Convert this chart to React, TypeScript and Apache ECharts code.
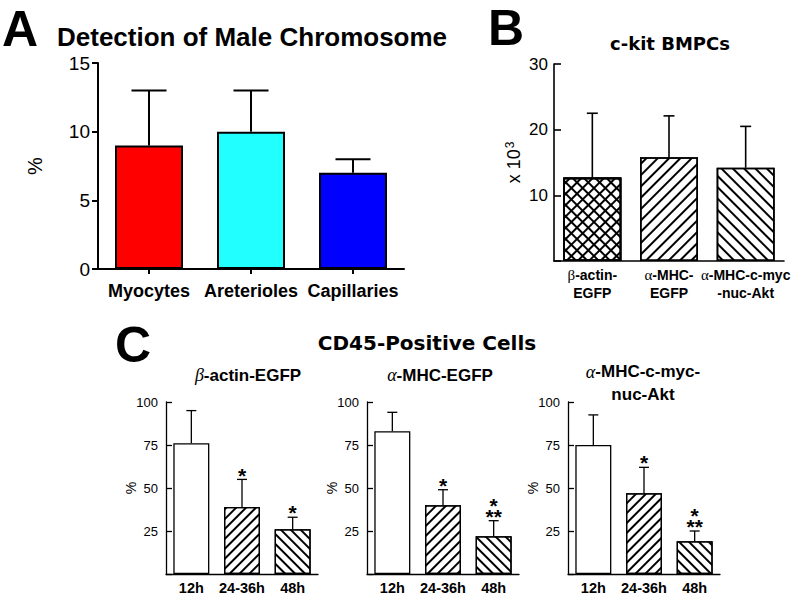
import React, { useEffect, useRef } from 'react';
import * as echarts from 'echarts';

// ---------- data ----------
const catsA = ['Myocytes', 'Areterioles', 'Capillaries'];
const valsA = [9, 10, 7];
const errA = [4, 3, 1];
const ticksA = [0, 5, 10, 15];

const catsB = ['β-actin-\nEGFP', 'α-MHC-\nEGFP', 'α-MHC-c-myc\n-nuc-Akt'];
const valsB = [12.7, 15.8, 14.2];
const errB = [9.8, 6.3, 6.3];
const ticksB = [10, 20, 30];

const catsC = ['12h', '24-36h', '48h'];
const titlesC = ['β-actin-EGFP', 'α-MHC-EGFP', 'α-MHC-c-myc-\nnuc-Akt'];
const valsC1 = [76, 39, 26];
const errC1 = [19, 16, 7];
const starsC1 = ['', '*', '*'];
const valsC2 = [83, 40, 22];
const errC2 = [11, 9, 9];
const starsC2 = ['', '*', '*\n**'];
const valsC3 = [75, 47, 19];
const errC3 = [17.5, 15, 6];
const starsC3 = ['', '*', '*\n**'];
const ticksC = [25, 50, 75, 100];

// ---------- styles ----------
const SANS = '"Liberation Sans", Arial, Helvetica, sans-serif';
const WIDE = '"DejaVu Sans", Verdana, sans-serif';
const SERIF = '"Liberation Serif", "Times New Roman", serif';
const colorsA = ['#ff0000', '#22ffff', '#0000ff'];

const slash = (gap: number) => ({
  symbol: 'rect', symbolSize: 1, dashArrayX: [1, 0], dashArrayY: [1.3, gap],
  rotation: -Math.PI / 4, color: '#000',
});
const backslash = (gap: number) => ({
  symbol: 'rect', symbolSize: 1, dashArrayX: [1, 0], dashArrayY: [1.3, gap],
  rotation: Math.PI / 4, color: '#000',
});

const greek = (s: string, tag: string) => s.split('\n').map((l) => l.replace(/([αβ])/g, `{${tag}|$1}`)).join('\n');

const STAR_FS = 21;
const STAR_LH = 11;
function errSeries(idx: number, vals: number[], errs: number[], stars: string[] | null, lw: number, cap: number) {
  return {
    type: 'custom', xAxisIndex: idx, yAxisIndex: idx, z: 5,
    data: vals.map((v, i) => [i, v, v + errs[i]]),
    encode: { x: 0, y: [1, 2] },
    renderItem: (params: any, api: any) => {
      const i = api.value(0);
      const top = api.coord([i, api.value(2)]);
      const base = api.coord([i, api.value(1)]);
      const st = { stroke: '#000', lineWidth: lw };
      const children: any[] = [
        { type: 'line', shape: { x1: top[0], y1: base[1], x2: top[0], y2: top[1] }, style: st },
        { type: 'line', shape: { x1: top[0] - cap / 2, y1: top[1], x2: top[0] + cap / 2, y2: top[1] }, style: st },
      ];
      const s = stars ? stars[params.dataIndex] : '';
      if (s) {
        const n = s.split('\n').length;
        const cy = top[1] - 9 - (n - 1) * STAR_LH / 2;
        children.push({
          type: 'text', x: top[0], y: cy + 0.22 * STAR_FS,
          style: { text: s, fontSize: STAR_FS, fontWeight: 'bold', fontFamily: SANS, fill: '#000', align: 'center', verticalAlign: 'middle', lineHeight: STAR_LH },
        });
      }
      return { type: 'group', children };
    },
  };
}

function buildOption(): any {
  const grids = [
    { left: 98, top: 63, width: 306, height: 206 },
    { left: 554, top: 64, width: 230, height: 197 },
    { left: 166, top: 402, width: 152, height: 173 },
    { left: 367, top: 402, width: 152, height: 173 },
    { left: 568, top: 402, width: 152, height: 173 },
  ];
  const cAxisX = (gi: number) => ({
    type: 'category', gridIndex: gi, data: catsC,
    axisLine: { lineStyle: { color: '#000', width: 1.3 } },
    axisTick: { show: false },
    axisLabel: { interval: 0, fontFamily: SANS, fontWeight: 'bold', fontSize: 14.5, color: '#000', margin: 6 },
  });
  const cAxisY = (gi: number) => ({
    type: 'value', gridIndex: gi, min: 0, max: 100, interval: 25,
    axisLine: { show: true, lineStyle: { color: '#000', width: 1.3 } },
    axisTick: { show: true, inside: true, length: 6, lineStyle: { color: '#000', width: 1.3 } },
    splitLine: { show: false },
    axisLabel: { fontFamily: SANS, fontSize: 13, color: '#000', margin: 8, formatter: (v: number) => (ticksC.includes(v) ? String(v) : '') },
    name: '%', nameLocation: 'middle', nameGap: 28, nameRotate: 90, nameMoveOverlap: false,
    nameTextStyle: { fontFamily: SANS, fontSize: 14, color: '#000' },
  });
  const cBars = (gi: number, vals: number[]) => ({
    type: 'bar', xAxisIndex: gi, yAxisIndex: gi, barWidth: 36,
    itemStyle: { color: '#fff', borderColor: '#000', borderWidth: 1.3 },
    data: vals.map((v, i) => ({ value: v, itemStyle: { decal: i === 1 ? slash(5) : i === 2 ? backslash(5) : null } })),
  });

  const titleX = [248, 440, 643];
  const subtitles = titlesC.map((t, i) => ({
    type: 'text', x: titleX[i], y: i === 2 ? 383 : 375,
    style: {
      text: greek(t, 'g'), fontFamily: SANS, fontWeight: 'bold', fontSize: 17, fill: '#000',
      align: 'center', verticalAlign: 'middle', lineHeight: 23,
      rich: { g: { fontFamily: SERIF, fontStyle: 'italic', fontWeight: 'normal', fontSize: 18, fill: '#000', lineHeight: 23 } },
    },
  }));

  const letter = (t: string, x: number, y: number) => ({
    type: 'text', x, y,
    style: { text: t, fontFamily: SANS, fontWeight: 'bold', fontSize: 50, lineHeight: 42, fill: '#000', verticalAlign: 'middle' },
  });

  return {
    animation: false,
    backgroundColor: '#fff',
    grid: grids,
    xAxis: [
      {
        type: 'category', gridIndex: 0, data: catsA,
        axisLine: { lineStyle: { color: '#000', width: 2 } },
        axisTick: { show: true, alignWithLabel: true, length: 5, lineStyle: { color: '#000', width: 2 } },
        axisLabel: { interval: 0, fontFamily: SANS, fontWeight: 'bold', fontSize: 18, color: '#000', margin: 13 },
      },
      {
        type: 'category', gridIndex: 1, data: catsB,
        axisLine: { lineStyle: { color: '#000', width: 1.6 } },
        axisTick: { show: false },
        axisLabel: {
          interval: 0, fontFamily: SANS, fontWeight: 'bold', fontSize: 14, color: '#000', margin: 5, lineHeight: 18,
          formatter: (v: string) => greek(v, 'g'),
          rich: { g: { fontFamily: SERIF, fontWeight: 'normal', fontSize: 15, color: '#000', lineHeight: 18 } },
        },
      },
      cAxisX(2), cAxisX(3), cAxisX(4),
    ],
    yAxis: [
      {
        type: 'value', gridIndex: 0, min: 0, max: 15, interval: 5,
        axisLine: { show: true, lineStyle: { color: '#000', width: 2 } },
        axisTick: { show: true, length: 6, lineStyle: { color: '#000', width: 2 } },
        splitLine: { show: false },
        axisLabel: { fontFamily: SANS, fontSize: 19, color: '#000', margin: 8, formatter: (v: number) => (ticksA.includes(v) ? String(v) : '') },
        name: '%', nameLocation: 'middle', nameGap: 53, nameRotate: 90,
        nameTextStyle: { fontFamily: SANS, fontSize: 20, color: '#000' },
      },
      {
        type: 'value', gridIndex: 1, min: 0, max: 30, interval: 10,
        axisLine: { show: true, lineStyle: { color: '#000', width: 1.6 } },
        axisTick: { show: true, inside: true, length: 7, lineStyle: { color: '#000', width: 1.6 } },
        splitLine: { show: false },
        axisLabel: { fontFamily: SANS, fontSize: 17, color: '#000', margin: 6, formatter: (v: number) => (ticksB.includes(v) ? String(v) : '') },
        name: '{a|x 10}{s|3}', nameLocation: 'middle', nameGap: 30, nameRotate: 90,
        nameTextStyle: {
          rich: {
            a: { fontFamily: SANS, fontSize: 18, color: '#000', lineHeight: 20 },
            s: { fontFamily: SANS, fontSize: 12, color: '#000', verticalAlign: 'top', lineHeight: 20, padding: [0, 0, 0, 1] },
          },
        },
      },
      cAxisY(2), cAxisY(3), cAxisY(4),
    ],
    series: [
      {
        type: 'bar', xAxisIndex: 0, yAxisIndex: 0, barWidth: 68,
        itemStyle: { borderColor: '#000', borderWidth: 2 },
        data: valsA.map((v, i) => ({ value: v, itemStyle: { color: colorsA[i] } })),
      },
      errSeries(0, valsA, errA, null, 2, 35),
      {
        type: 'bar', xAxisIndex: 1, yAxisIndex: 1, barWidth: 58, barGap: '-100%',
        itemStyle: { color: '#fff', borderColor: '#000', borderWidth: 1.6 },
        data: valsB.map((v, i) => ({ value: v, itemStyle: { decal: i === 1 ? slash(5.8) : backslash(5.8) } })),
      },
      {
        // second layer of hatching for the cross-hatched bar
        type: 'bar', xAxisIndex: 1, yAxisIndex: 1, barWidth: 58, barGap: '-100%', z: 3,
        itemStyle: { color: 'rgba(0,0,0,0)', borderColor: '#000', borderWidth: 1.6 },
        data: valsB.map((v, i) => (i === 0 ? { value: v, itemStyle: { decal: slash(5.8) } } : '-')),
      },
      errSeries(1, valsB, errB, null, 1.6, 11),
      cBars(2, valsC1), errSeries(2, valsC1, errC1, starsC1, 1.3, 10),
      cBars(3, valsC2), errSeries(3, valsC2, errC2, starsC2, 1.3, 10),
      cBars(4, valsC3), errSeries(4, valsC3, errC3, starsC3, 1.3, 10),
    ],
    graphic: [
      letter('A', 2, 29),
      { type: 'text', x: 57, y: 37, style: { text: 'Detection of Male Chromosome', fontFamily: SANS, fontWeight: 'bold', fontSize: 26, fill: '#000', verticalAlign: 'middle' } },
      letter('B', 488, 28),
      { type: 'text', x: 670, y: 43, style: { text: 'c-kit BMPCs', fontFamily: WIDE, fontWeight: 'bold', fontSize: 18, fill: '#000', align: 'center', verticalAlign: 'middle' } },
      letter('C', 115, 345),
      { type: 'text', x: 427, y: 343, style: { text: 'CD45-Positive Cells', fontFamily: WIDE, fontWeight: 'bold', fontSize: 20, fill: '#000', align: 'center', verticalAlign: 'middle' } },
      ...subtitles,
    ],
  };
}

export default function App() {
  const ref = useRef<HTMLDivElement>(null);
  useEffect(() => {
    if (!ref.current) return;
    const chart = echarts.init(ref.current, null, { renderer: 'svg' });
    chart.setOption(buildOption());
    return () => chart.dispose();
  }, []);
  return <div ref={ref} style={{ position: 'absolute', left: 0, top: 0, width: 800, height: 595, background: '#fff' }} />;
}
